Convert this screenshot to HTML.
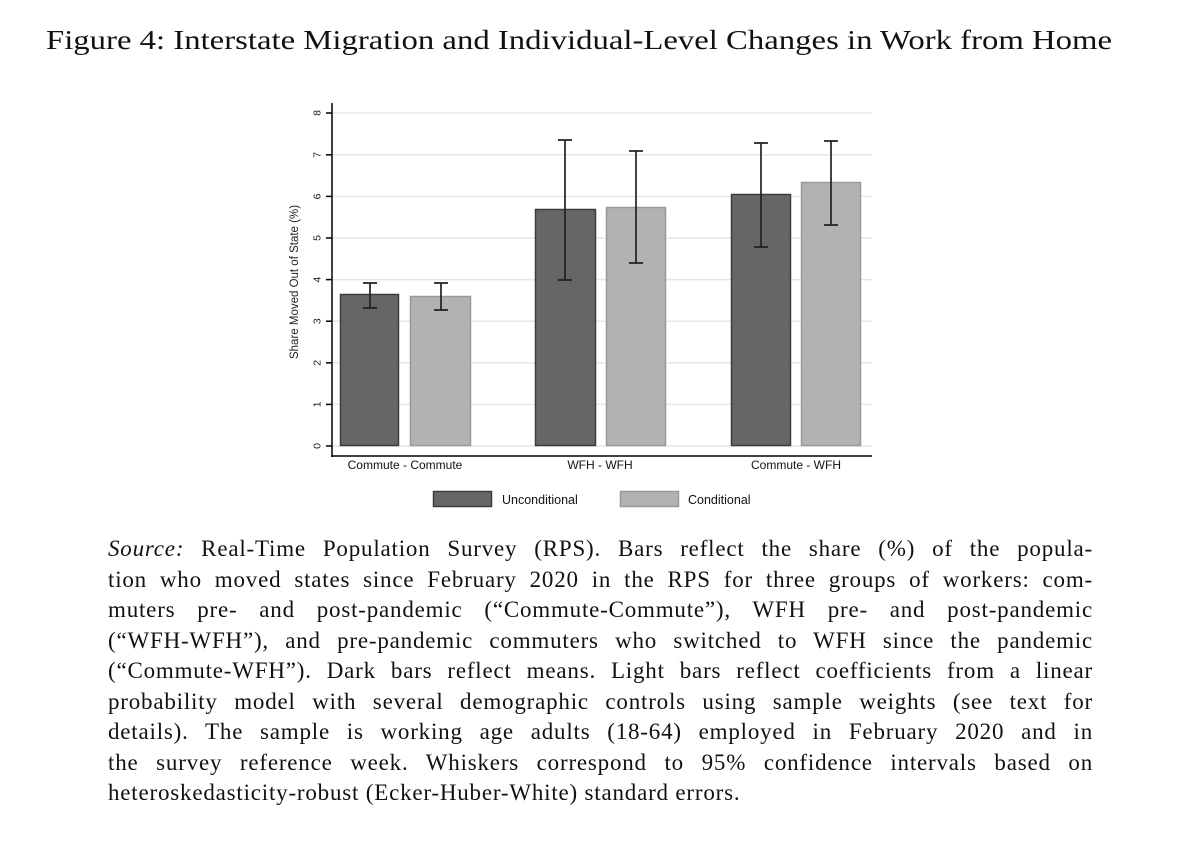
<!DOCTYPE html>
<html><head><meta charset="utf-8"><style>
body{margin:0;background:#fff;width:1186px;height:843px;position:relative;overflow:hidden}
.cap{position:absolute;left:108px;width:985px;font-family:"Liberation Serif",serif;font-size:23px;letter-spacing:0.8px;color:#111;line-height:30.5px;top:534px}
.cap div{text-align:justify;text-align-last:justify;white-space:nowrap;height:30.5px}
.cap div.l{text-align-last:left}
</style></head><body>
<svg width="1186" height="843" style="position:absolute;left:0;top:0" font-family="Liberation Sans, sans-serif">
<text x="46" y="49" font-family="Liberation Serif, serif" font-size="27" fill="#111" textLength="1066" lengthAdjust="spacingAndGlyphs">Figure 4: Interstate Migration and Individual-Level Changes in Work from Home</text>
<g stroke="#e6e6e6" stroke-width="1.5">
<line x1="333" x2="872" y1="446" y2="446"/><line x1="333" x2="872" y1="404.4" y2="404.4"/><line x1="333" x2="872" y1="362.8" y2="362.8"/><line x1="333" x2="872" y1="321.2" y2="321.2"/><line x1="333" x2="872" y1="279.6" y2="279.6"/><line x1="333" x2="872" y1="238" y2="238"/><line x1="333" x2="872" y1="196.4" y2="196.4"/><line x1="333" x2="872" y1="154.8" y2="154.8"/><line x1="333" x2="872" y1="113" y2="113"/>
</g>
<g stroke="#000" stroke-width="1.5">
<line x1="332" x2="332" y1="103" y2="457"/><line x1="331" x2="872" y1="456" y2="456"/>
<line x1="326" x2="332" y1="446" y2="446"/><line x1="326" x2="332" y1="404.4" y2="404.4"/><line x1="326" x2="332" y1="362.8" y2="362.8"/><line x1="326" x2="332" y1="321.2" y2="321.2"/><line x1="326" x2="332" y1="279.6" y2="279.6"/><line x1="326" x2="332" y1="238" y2="238"/><line x1="326" x2="332" y1="196.4" y2="196.4"/><line x1="326" x2="332" y1="154.8" y2="154.8"/><line x1="326" x2="332" y1="113" y2="113"/>
</g>
<g font-size="10.5" fill="#222" text-anchor="middle">
<text transform="translate(317,446) rotate(-90)" dy="3.5">0</text>
<text transform="translate(317,404.4) rotate(-90)" dy="3.5">1</text>
<text transform="translate(317,362.8) rotate(-90)" dy="3.5">2</text>
<text transform="translate(317,321.2) rotate(-90)" dy="3.5">3</text>
<text transform="translate(317,279.6) rotate(-90)" dy="3.5">4</text>
<text transform="translate(317,238) rotate(-90)" dy="3.5">5</text>
<text transform="translate(317,196.4) rotate(-90)" dy="3.5">6</text>
<text transform="translate(317,154.8) rotate(-90)" dy="3.5">7</text>
<text transform="translate(317,113) rotate(-90)" dy="3.5">8</text>
<text transform="translate(298,282) rotate(-90)" font-size="11.5">Share Moved Out of State (%)</text>
</g>
<g stroke-width="1.5">
<rect x="340.5" y="294.5" width="58" height="151" fill="#666" stroke="#3c3c3c"/>
<rect x="410.5" y="296.5" width="60" height="149" fill="#b2b2b2" stroke="#999"/>
<rect x="535.5" y="209.5" width="60" height="236" fill="#666" stroke="#3c3c3c"/>
<rect x="606.5" y="207.5" width="59" height="238" fill="#b2b2b2" stroke="#999"/>
<rect x="731.5" y="194.5" width="59" height="251" fill="#666" stroke="#3c3c3c"/>
<rect x="801.5" y="182.5" width="59" height="263" fill="#b2b2b2" stroke="#999"/>
</g>
<g stroke="#222" stroke-width="1.7" fill="none">
<path d="M370 283V308M363 283H377M363 308H377"/>
<path d="M441 283V310M434 283H448M434 310H448"/>
<path d="M565 140V280M558 140H572M558 280H572"/>
<path d="M636 151V263M629 151H643M629 263H643"/>
<path d="M761 143V247M754 143H768M754 247H768"/>
<path d="M831 141V225M824 141H838M824 225H838"/>
</g>
<g font-size="12" fill="#111" text-anchor="middle">
<text x="405" y="469">Commute - Commute</text>
<text x="600" y="469">WFH - WFH</text>
<text x="796" y="469">Commute - WFH</text>
</g>
<rect x="433.5" y="491.5" width="58" height="15" fill="#666" stroke="#3c3c3c" stroke-width="1.5"/>
<text x="502" y="504" font-size="12.5" fill="#111">Unconditional</text>
<rect x="620.5" y="491.5" width="58" height="15" fill="#b2b2b2" stroke="#999" stroke-width="1.5"/>
<text x="688" y="504" font-size="12.5" fill="#111">Conditional</text>
</svg>
<div class="cap">
<div><i>Source:</i> Real-Time Population Survey (RPS). Bars reflect the share (%) of the popula-</div>
<div>tion who moved states since February 2020 in the RPS for three groups of workers: com-</div>
<div>muters pre- and post-pandemic (“Commute-Commute”), WFH pre- and post-pandemic</div>
<div>(“WFH-WFH”), and pre-pandemic commuters who switched to WFH since the pandemic</div>
<div>(“Commute-WFH”). Dark bars reflect means. Light bars reflect coefficients from a linear</div>
<div>probability model with several demographic controls using sample weights (see text for</div>
<div>details). The sample is working age adults (18-64) employed in February 2020 and in</div>
<div>the survey reference week. Whiskers correspond to 95% confidence intervals based on</div>
<div class="l">heteroskedasticity-robust (Ecker-Huber-White) standard errors.</div>
</div>
</body></html>
